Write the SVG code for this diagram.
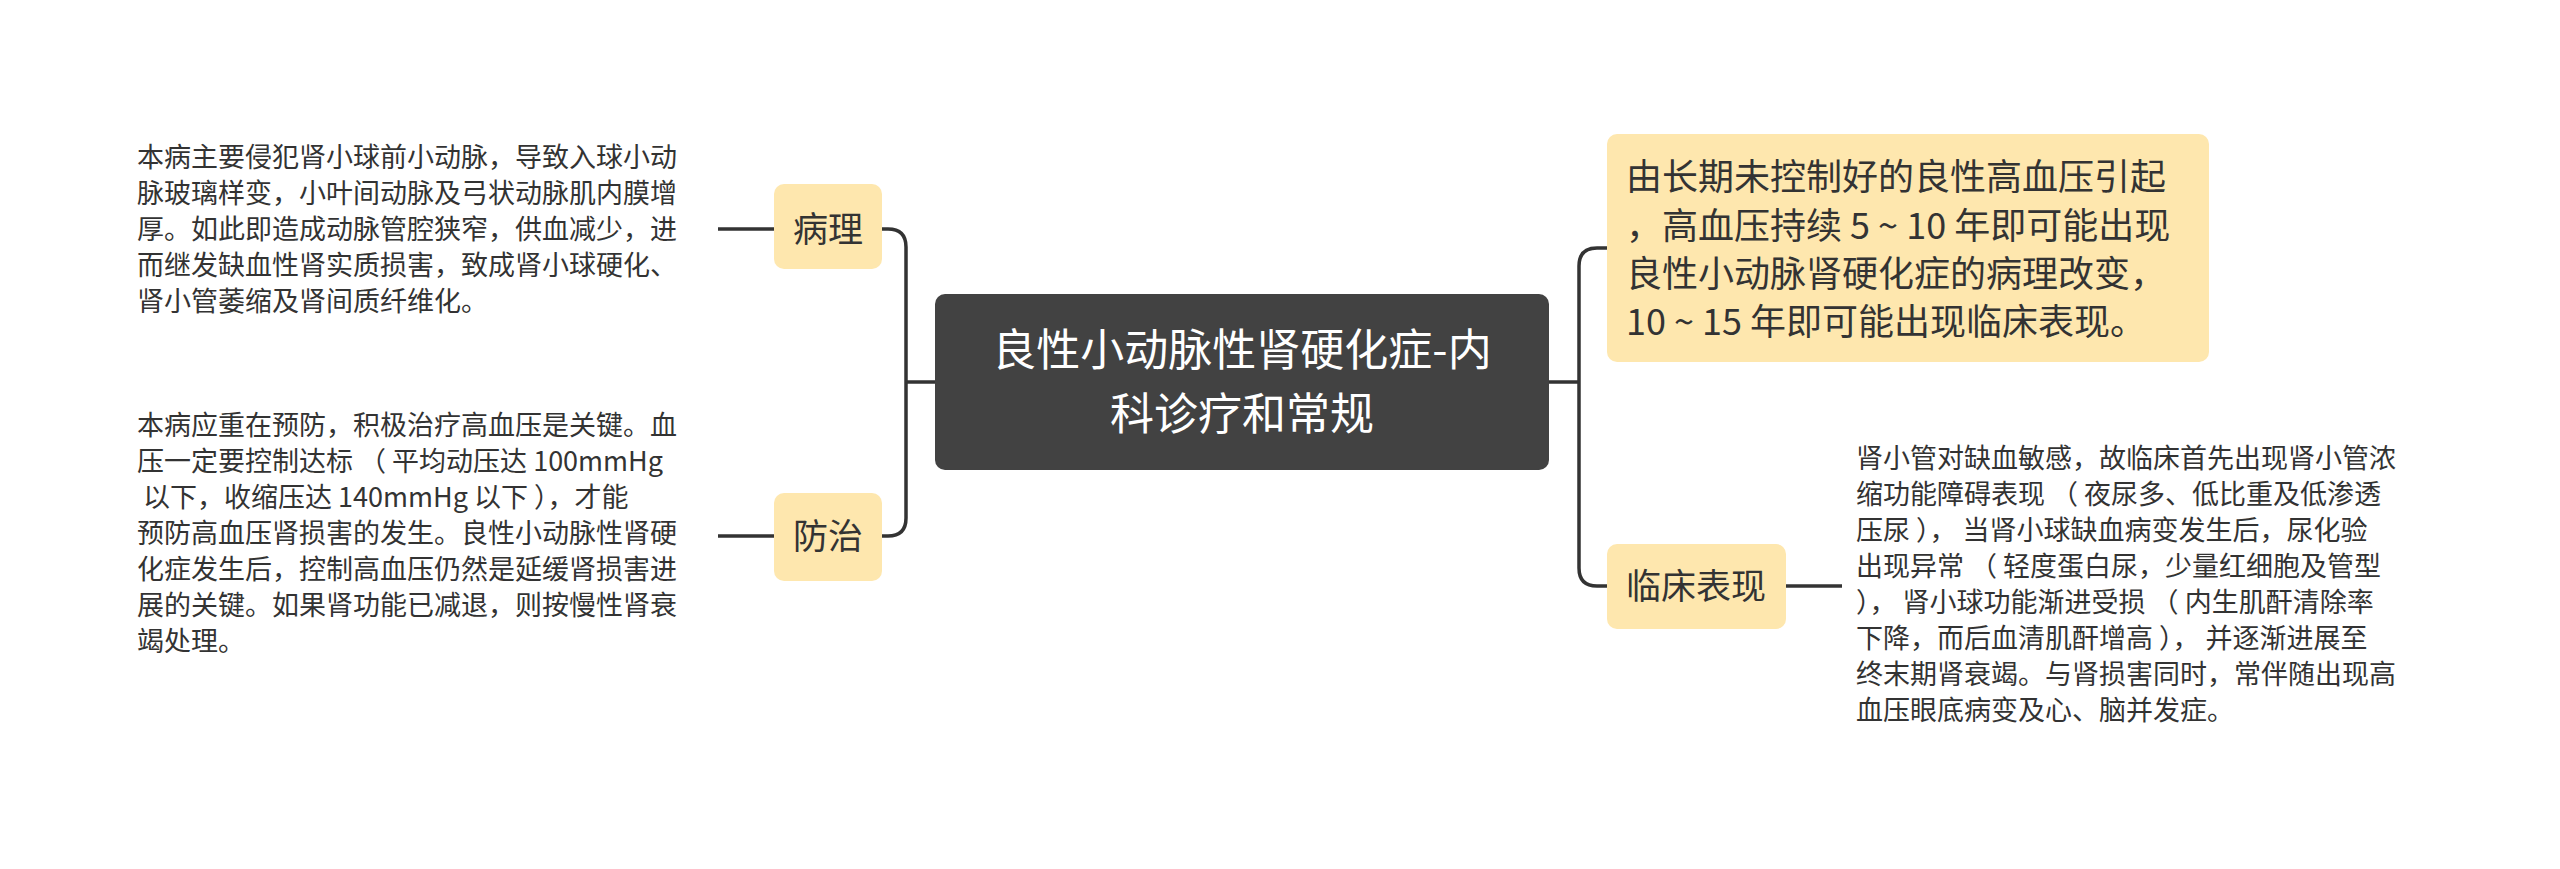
<svg xmlns="http://www.w3.org/2000/svg" width="2560" height="869" viewBox="0 0 2560 869">
<style>
.t{font-family:"Noto Sans CJK SC","Noto Sans",sans-serif;fill:#333}
.s{font-size:27px}
.b{fill:#FEE7AE}
.c{fill:none;stroke:#333;stroke-width:3.5}
</style>
<rect width="2560" height="869" fill="#fff"/>
<g id="connectors">
<path class="c" d="M935 382H906M906 382V247Q906 229 888 229H882M906 382V518Q906 536 888 536H882"/>
<path class="c" d="M774 229H718M774 536H718"/>
<path class="c" d="M1549 382H1579M1579 382V266Q1579 248 1597 248H1607M1579 382V568Q1579 586 1597 586H1607"/>
<path class="c" d="M1786 586H1842"/>
</g>
<g id="center">
<rect x="935" y="294" width="614" height="176" rx="10" fill="#424242"/>
<text class="t" x="1242" y="366" font-size="44" text-anchor="middle" style="fill:#fff">良性小动脉性肾硬化症-内</text>
<text class="t" x="1242" y="430" font-size="44" text-anchor="middle" style="fill:#fff">科诊疗和常规</text>
</g>
<g id="bingli">
<rect class="b" x="774" y="184" width="108" height="85" rx="10"/>
<text class="t" x="828" y="242" font-size="35" text-anchor="middle">病理</text>
</g>
<g id="bingli-text">
<text class="t s" x="137"><tspan x="137" y="167">本病主要侵犯肾小球前小动脉，导致入球小动</tspan><tspan x="137" y="203">脉玻璃样变，小叶间动脉及弓状动脉肌内膜增</tspan><tspan x="137" y="239">厚。如此即造成动脉管腔狭窄，供血减少，进</tspan><tspan x="137" y="275">而继发缺血性肾实质损害，致成肾小球硬化、</tspan><tspan x="137" y="311">肾小管萎缩及肾间质纤维化。</tspan></text>
</g>
<g id="fangzhi">
<rect class="b" x="774" y="493" width="108" height="88" rx="10"/>
<text class="t" x="828" y="549" font-size="35" text-anchor="middle">防治</text>
</g>
<g id="fangzhi-text">
<text class="t s"><tspan x="137" y="435">本病应重在预防，积极治疗高血压是关键。血</tspan><tspan x="137" y="471">压一定要控制达标 （ 平均动压达 100mmHg</tspan><tspan x="137" y="507"> 以下，收缩压达 140mmHg 以下 ），才能</tspan><tspan x="137" y="543">预防高血压肾损害的发生。良性小动脉性肾硬</tspan><tspan x="137" y="579">化症发生后，控制高血压仍然是延缓肾损害进</tspan><tspan x="137" y="615">展的关键。如果肾功能已减退，则按慢性肾衰</tspan><tspan x="137" y="651">竭处理。</tspan></text>
</g>
<g id="cause">
<rect class="b" x="1607" y="134" width="602" height="228" rx="10"/>
<text class="t" font-size="36"><tspan x="1626" y="190">由长期未控制好的良性高血压引起</tspan><tspan x="1626" y="239">，高血压持续 5 ~ 10 年即可能出现</tspan><tspan x="1626" y="287">良性小动脉肾硬化症的病理改变，</tspan><tspan x="1626" y="335">10 ~ 15 年即可能出现临床表现。</tspan></text>
</g>
<g id="linchuang">
<rect class="b" x="1607" y="544" width="179" height="85" rx="10"/>
<text class="t" x="1696" y="599" font-size="35" text-anchor="middle">临床表现</text>
</g>
<g id="linchuang-text">
<text class="t s"><tspan x="1856" y="468">肾小管对缺血敏感，故临床首先出现肾小管浓</tspan><tspan x="1856" y="504">缩功能障碍表现 （ 夜尿多、低比重及低渗透</tspan><tspan x="1856" y="540">压尿 ）， 当肾小球缺血病变发生后，尿化验</tspan><tspan x="1856" y="576">出现异常 （ 轻度蛋白尿，少量红细胞及管型</tspan><tspan x="1856" y="612">）， 肾小球功能渐进受损 （ 内生肌酐清除率</tspan><tspan x="1856" y="648">下降，而后血清肌酐增高 ）， 并逐渐进展至</tspan><tspan x="1856" y="684">终末期肾衰竭。与肾损害同时，常伴随出现高</tspan><tspan x="1856" y="720">血压眼底病变及心、脑并发症。</tspan></text>
</g>
</svg>
